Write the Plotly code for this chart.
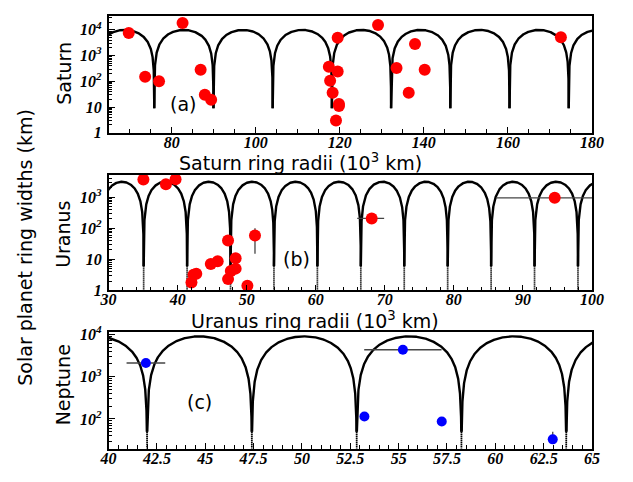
import numpy as np
import plotly.graph_objects as go

# ---------------- measured ring data ----------------
# Saturn: ring radius (10^3 km) and width (km)
saturn_r = [69.8, 73.7, 77.0, 82.6, 86.9, 87.9, 89.4, 117.4, 117.7, 118.3, 119.1,
            119.5, 119.5, 119.8, 119.8, 129.1, 133.5, 136.4, 137.9, 140.2, 172.6]
saturn_w = [7600, 150, 100, 18600, 280, 30, 19, 370, 105, 36, 3,
            4900, 240, 13, 11, 15600, 330, 36, 2800, 280, 5200]

# Uranus
uranus_r = [35.04, 38.3, 39.7, 42.0, 42.3, 42.7, 44.8, 45.8, 47.3, 47.3, 47.7,
            48.4, 48.4, 50.1, 51.2, 68.1, 94.6]
uranus_w = [3630, 2560, 3740, 1.8, 3.2, 3.4, 7.0, 8.7, 40, 2.3, 4.2,
            10.8, 5.0, 1.4, 58, 205, 940]
uranus_r_err_minus = [0, 0, 0, 0, 0, 0, 0, 0, 0, 0, 0, 0, 0, 0, 0, 2.1, 8.5]
uranus_r_err_plus = [0, 0, 0, 0, 0, 0, 0, 0, 0, 0, 0, 0, 0, 0, 0, 1.8, 8.5]
uranus_w_err_minus = [0, 0, 0, 0, 0, 0, 0, 0, 0, 0, 0, 0, 0, 0, 43, 0, 0]
uranus_w_err_plus = [0, 0, 0, 0, 0, 0, 0, 0, 0, 0, 0, 0, 0, 0, 42, 0, 0]

# Neptune
neptune_r = [41.93, 53.23, 55.22, 57.23, 62.97]
neptune_w = [2110, 115, 4330, 87, 33]
neptune_r_err = [1.0, 0, 2.0, 0.15, 0]
neptune_w_err_minus = [0, 0, 0, 0, 5]
neptune_w_err_plus = [0, 0, 0, 0, 17]

# ---------------- model curves: w = A |sin(pi (r - r0) / P)| ----------------
saturn_model = dict(r0=75.86, period=14.086, amp=1.0e4, wcut=9.0)
uranus_model = dict(r0=35.08, period=6.289, amp=3100.0, wcut=6.0)
neptune_model = dict(r0=41.99, period=5.42, amp=9000.0, wcut=50.0)

# axis settings
saturn_xrange = [65, 180]
uranus_xrange = [30, 100]
neptune_xrange = [40, 65]
saturn_yrange = [0, 4.54]
uranus_yrange = [0, 3.72]
neptune_yrange = [1.3, 4.06]


def model_curves(r0, period, amp, wcut, xr, wbottom):
    """Solid arches down to wcut, plus dotted legs from wcut to wbottom."""
    dcut = period / np.pi * np.arcsin(wcut / amp)
    dbot = period / np.pi * np.arcsin(min(wbottom, wcut) / amp)
    kmin = int(np.floor((xr[0] - r0) / period)) - 1
    kmax = int(np.ceil((xr[1] - r0) / period)) + 1
    sx, sy, dx, dy = [], [], [], []
    t = np.linspace(0, 1, 500)
    for k in range(kmin, kmax):
        node = r0 + k * period
        d = dcut + (period - 2 * dcut) * (1 - np.cos(np.pi * t)) / 2
        r = node + d
        w = amp * np.abs(np.sin(np.pi * (r - r0) / period))
        sx += list(r) + [None]
        sy += list(w) + [None]
        # dotted legs around this node
        dd = np.geomspace(dcut, dbot, 40)
        left = node - dd
        right = node + dd[::-1]
        rr = np.concatenate([left, right])
        ww = amp * np.abs(np.sin(np.pi * (rr - r0) / period))
        dx += list(rr) + [None]
        dy += list(ww) + [None]
    return sx, sy, dx, dy


fig = go.Figure()

panels = [
    ("x", "y", saturn_model, saturn_xrange, 10 ** saturn_yrange[0], False),
    ("x2", "y2", uranus_model, uranus_xrange, 10 ** uranus_yrange[0] * 0.9, True),
    ("x3", "y3", neptune_model, neptune_xrange, 10 ** neptune_yrange[0] * 0.9, True),
]
for xa, ya, m, xr, wb, dotted in panels:
    sx, sy, dx, dy = model_curves(m["r0"], m["period"], m["amp"], m["wcut"], xr, wb)
    fig.add_trace(go.Scatter(x=sx, y=sy, mode="lines", xaxis=xa, yaxis=ya,
                             line=dict(color="black", width=2.4), hoverinfo="skip",
                             showlegend=False))
    if dotted:
        fig.add_trace(go.Scatter(x=dx, y=dy, mode="lines", xaxis=xa, yaxis=ya,
                                 line=dict(color="black", width=1.7, dash="1px,1px"),
                                 hoverinfo="skip", showlegend=False))

err_style = dict(color="#444444", thickness=1.3, width=0)

fig.add_trace(go.Scatter(x=saturn_r, y=saturn_w, mode="markers", xaxis="x", yaxis="y",
                         marker=dict(color="#ff0000", size=12), showlegend=False))
fig.add_trace(go.Scatter(
    x=uranus_r, y=uranus_w, mode="markers", xaxis="x2", yaxis="y2",
    marker=dict(color="#ff0000", size=12), showlegend=False,
    error_x=dict(type="data", symmetric=False, array=uranus_r_err_plus,
                 arrayminus=uranus_r_err_minus, **err_style),
    error_y=dict(type="data", symmetric=False, array=uranus_w_err_plus,
                 arrayminus=uranus_w_err_minus, **err_style)))
fig.add_trace(go.Scatter(
    x=neptune_r, y=neptune_w, mode="markers", xaxis="x3", yaxis="y3",
    marker=dict(color="#0000ff", size=10), showlegend=False,
    error_x=dict(type="data", array=neptune_r_err, **err_style),
    error_y=dict(type="data", symmetric=False, array=neptune_w_err_plus,
                 arrayminus=neptune_w_err_minus, **err_style)))

W, H = 633, 482
xdom = [103 / W, 603 / W]
ydoms = [[1 - 129.3 / H, 1 - 8.3 / H],
         [1 - 292.7 / H, 1 - 172.7 / H],
         [1 - 456.7 / H, 1 - 335.7 / H]]

tickfont = dict(family="Liberation Serif", size=16, color="black",
                weight="bold", style="italic")
ytickfont = dict(family="Liberation Serif", size=16, color="black",
                 weight="bold", style="italic")


def xaxis(rng, dtick, minor_dtick, tick0, tickvals=None, ticktext=None):
    ax = dict(range=rng, domain=xdom, showline=True, mirror=True, linecolor="black",
              linewidth=1.5, ticks="inside", ticklen=6, tickwidth=1.2, tickcolor="black",
              showgrid=False, zeroline=False, tickfont=tickfont, ticklabelstandoff=-6,
              minor=dict(ticks="inside", ticklen=4, tickwidth=1, tickcolor="black",
                         dtick=minor_dtick, tick0=tick0, showgrid=False))
    if tickvals is not None:
        ax.update(tickmode="array", tickvals=tickvals, ticktext=ticktext)
    else:
        ax.update(dtick=dtick, tick0=tick0)
    return ax


def yaxis(rng, dom, decades, labels):
    return dict(type="log", range=rng, domain=dom, showline=True, mirror=True,
                linecolor="black", linewidth=1.5, ticks="inside", ticklen=7,
                tickwidth=1.2, tickcolor="black", showgrid=False, zeroline=False,
                tickmode="array", tickvals=[10 ** d for d in decades], ticktext=labels,
                tickfont=ytickfont, ticklabelstandoff=2,
                minor=dict(ticks="inside", ticklen=4, tickwidth=1, tickcolor="black",
                           dtick="D1", showgrid=False))


fig.update_layout(
    width=W, height=H, margin=dict(l=0, r=0, t=0, b=0),
    paper_bgcolor="white", plot_bgcolor="white",
    xaxis=xaxis(saturn_xrange, 20, 5, 0),
    xaxis2=dict(xaxis(uranus_xrange, 10, 2, 0), anchor="y2"),
    xaxis3=dict(xaxis(neptune_xrange, None, 0.5, 40,
                      tickvals=[40, 42.5, 45, 47.5, 50, 52.5, 55, 57.5, 60, 62.5, 65],
                      ticktext=["40", "42.5", "45", "47.5", "50", "52.5", "55", "57.5",
                                "60", "62.5", "65"]), anchor="y3"),
    yaxis=yaxis(saturn_yrange, ydoms[0], [0, 1, 2, 3, 4],
                ["1", "10", "10<sup>2</sup>", "10<sup>3</sup>", "10<sup>4</sup>"]),
    yaxis2=dict(yaxis(uranus_yrange, ydoms[1], [0, 1, 2, 3],
                      ["1", "10", "10<sup>2</sup>", "10<sup>3</sup>"]), anchor="x2"),
    yaxis3=dict(yaxis(neptune_yrange, ydoms[2], [2, 3, 4],
                      ["10<sup>2</sup>", "10<sup>3</sup>", "10<sup>4</sup>"]), anchor="x3"),
)

title_font = dict(family="DejaVu Sans", size=19, color="black")
ann = [
    dict(text="Saturn ring radii (10<sup>3</sup> km)", x=301 / W, y=1 - 160 / H),
    dict(text="Uranus ring radii (10<sup>3</sup> km)", x=316 / W, y=1 - 323 / H),
    dict(text="Saturn", x=56 / W, y=1 - 68 / H, textangle=-90),
    dict(text="Uranus", x=56 / W, y=1 - 235 / H, textangle=-90),
    dict(text="Neptune", x=56 / W, y=1 - 391 / H, textangle=-90),
    dict(text="Solar planet ring widths (km)", x=17 / W, y=1 - 248 / H, textangle=-90),
    dict(text="(a)", x=180 / W, y=1 - 100 / H),
    dict(text="(b)", x=297 / W, y=1 - 260 / H),
    dict(text="(c)", x=197 / W, y=1 - 408 / H),
]
for a in ann:
    fig.add_annotation(xref="paper", yref="paper", showarrow=False,
                       xanchor="center", yanchor="middle", font=title_font, **a)

fig.write_html("out.html")
